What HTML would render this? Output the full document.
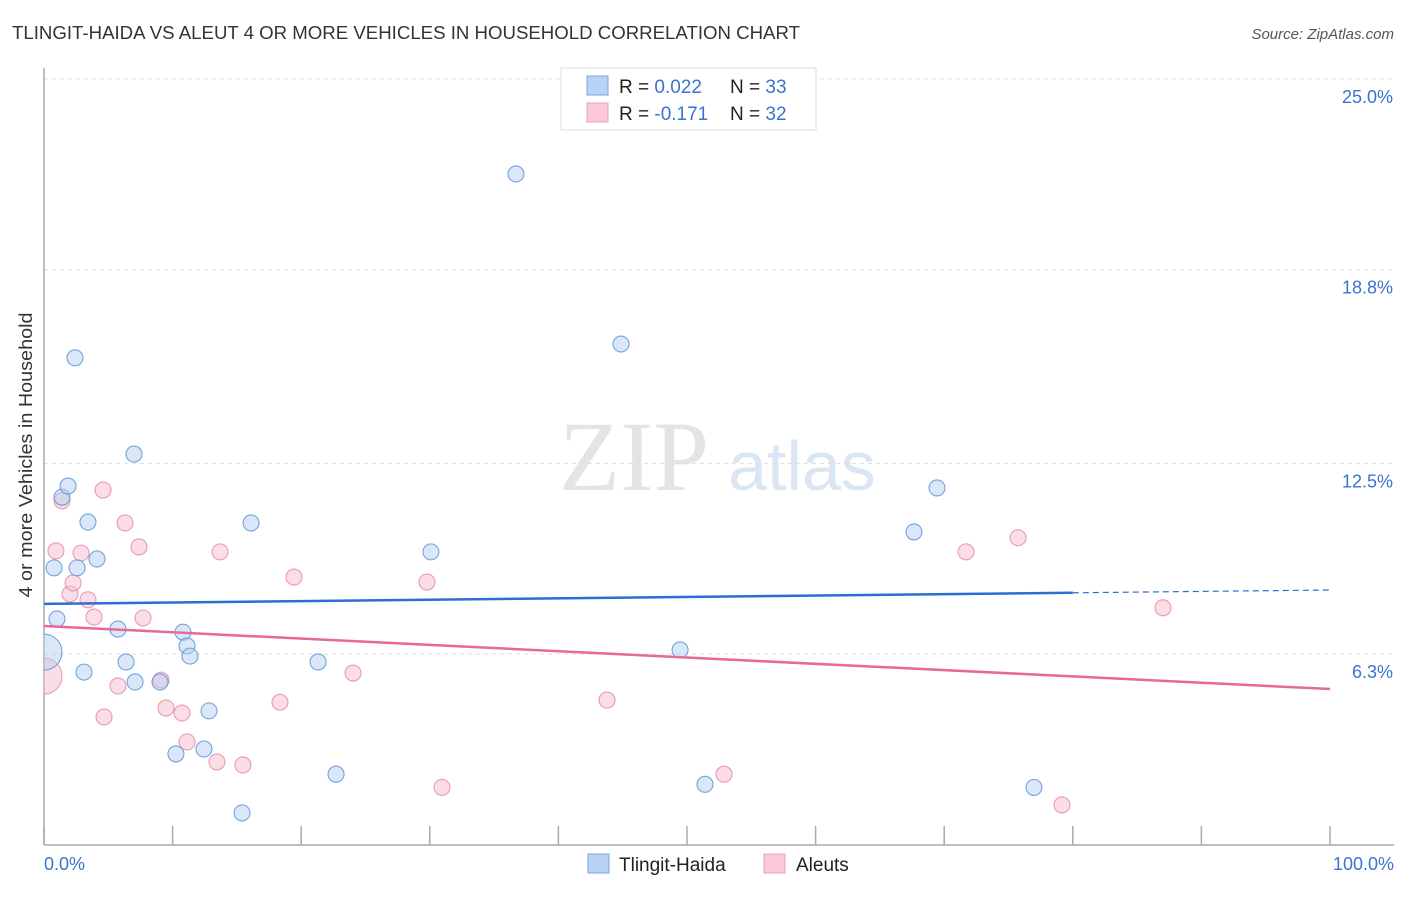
<!DOCTYPE html>
<html><head><meta charset="utf-8"><style>
body{margin:0;background:#fff;width:1406px;height:892px;overflow:hidden;font-family:"Liberation Sans",sans-serif}
</style></head><body>
<svg id="chart" width="1406" height="892" xmlns="http://www.w3.org/2000/svg">
<defs><clipPath id="plotclip"><rect x="44" y="60" width="1360" height="785"/></clipPath></defs>
<text x="12" y="39" font-size="18" fill="#333" textLength="788" lengthAdjust="spacingAndGlyphs">TLINGIT-HAIDA VS ALEUT 4 OR MORE VEHICLES IN HOUSEHOLD CORRELATION CHART</text>
<text x="1394" y="39" font-size="15" fill="#555" font-style="italic" text-anchor="end">Source: ZipAtlas.com</text>
<text x="634" y="490" font-size="100" fill="#e4e4e4" font-family="Liberation Serif,serif" text-anchor="middle">ZIP</text>
<text x="802" y="490" font-size="70" fill="#dbe6f5" text-anchor="middle">atlas</text>
<g id="grid"></g><g id="axes"></g><g id="pts" clip-path="url(#plotclip)"></g><g id="trend"></g>
<text x="32" y="455" font-size="18" fill="#333" text-anchor="middle" textLength="285" lengthAdjust="spacingAndGlyphs" transform="rotate(-90 32 455)">4 or more Vehicles in Household</text>
<text x="44" y="870" font-size="18" fill="#3a73d0">0.0%</text>
<text x="1394" y="870" font-size="18" fill="#3a73d0" text-anchor="end">100.0%</text>
<g>
<rect x="561" y="68" width="255" height="62" fill="#fff" stroke="#ddd"/>
<rect x="587" y="76" width="21" height="19" fill="#b8d3f5" stroke="#7aa6e0"/>
<rect x="587" y="103" width="21" height="19" fill="#fac8d7" stroke="#eba0b8"/>
<text x="619" y="93" font-size="19" fill="#222">R = <tspan fill="#3a73d0">0.022</tspan></text>
<text x="730" y="93" font-size="19" fill="#222">N = <tspan fill="#3a73d0">33</tspan></text>
<text x="619" y="120" font-size="19" fill="#222">R = <tspan fill="#3a73d0">-0.171</tspan></text>
<text x="730" y="120" font-size="19" fill="#222">N = <tspan fill="#3a73d0">32</tspan></text>
</g>
<g>
<rect x="588" y="854" width="21" height="19" fill="#b8d3f5" stroke="#7aa6e0"/>
<text x="619" y="871" font-size="19" fill="#222">Tlingit-Haida</text>
<rect x="764" y="854" width="21" height="19" fill="#fac8d7" stroke="#eba0b8"/>
<text x="796" y="871" font-size="19" fill="#222">Aleuts</text>
</g>
</svg>
<script>
const yTicks=[25.0,18.8,12.5,6.3];
const yTickLabels=["25.0%","18.8%","12.5%","6.3%"];
const xTicks=[0,10,20,30,40,50,60,70,80,90,100];
const blueX=[0,0.78,1.01,1.40,1.87,2.41,3.11,3.42,4.12,2.57,5.75,6.38,7.00,7.08,9.02,10.26,10.81,11.12,11.35,12.44,12.83,15.40,16.10,21.31,22.71,30.09,36.70,44.87,49.46,51.40,67.65,69.44,76.98];
const blueY=[6.36,9.10,7.44,11.40,11.76,15.93,5.71,10.59,9.39,9.10,7.11,6.04,12.80,5.39,5.39,3.05,7.01,6.56,6.23,3.21,4.45,1.13,10.56,6.04,2.39,9.62,21.91,16.38,6.43,2.06,10.27,11.70,1.96];
const pinkX=[0,0.93,1.40,2.02,2.26,2.88,3.42,3.89,4.59,4.67,5.75,6.30,7.39,7.70,9.10,9.49,10.73,11.12,13.45,13.69,15.47,18.35,19.44,24.03,29.78,30.95,43.78,52.88,71.70,75.74,79.16,87.01];
const pinkY=[5.58,9.65,11.28,8.25,8.61,9.58,8.06,7.50,11.63,4.25,5.26,10.56,9.78,7.47,5.45,4.54,4.38,3.44,2.79,9.62,2.69,4.73,8.80,5.68,8.64,1.96,4.80,2.39,9.62,10.08,1.39,7.80];
const blueTrend=[7.93,8.38];
const pinkTrend=[7.21,5.16];
const NS="http://www.w3.org/2000/svg";
const X=v=>44+v*12.86;
const Y=v=>847.7-v*30.75;
function mk(parent,tag,attrs){const e=document.createElementNS(NS,tag);for(const k in attrs)e.setAttribute(k,attrs[k]);document.getElementById(parent).appendChild(e);return e;}
yTicks.forEach((t,i)=>{
 const l=mk('grid','line',{x1:44,x2:1394,y1:Y(t),y2:Y(t),stroke:'#ddd','stroke-dasharray':'4 4'});
 
 
 const tx=mk('grid','text',{x:1393,y:Y(t)+24,'font-size':18,fill:'#3a73d0','text-anchor':'end'});
 tx.textContent=yTickLabels[i];
 
 
});
const ya=mk('axes','line',{x1:44,x2:44,y1:68,y2:845,stroke:'#aaa','stroke-width':1.5});


const xa=mk('axes','line',{x1:44,x2:1394,y1:845,y2:845,stroke:'#aaa','stroke-width':1.5});


xTicks.forEach(t=>{
 const l=mk('axes','line',{x1:X(t),x2:X(t),y1:826,y2:845,stroke:'#aaa','stroke-width':1.5});
 
 
});
function pts(xs,ys,fill,stroke,name){
 xs.forEach((x,i)=>{
  const r=i===0?18:8;
  const c=mk('pts','circle',{cx:X(x),cy:Y(ys[i]),r:r,fill:fill,'fill-opacity':0.5,stroke:stroke,'stroke-width':1.1,'stroke-opacity':0.85});
  
  
 });
}
pts(pinkX,pinkY,'#f8bcd0','#e88aa8','aleuts-point');
pts(blueX,blueY,'#b3cff2','#5f93d8','tlingit-haida-point');
let l=mk('trend','line',{x1:X(0),x2:X(80),y1:Y(blueTrend[0]),y2:Y(blueTrend[0]+(blueTrend[1]-blueTrend[0])*0.8),stroke:'#2d6fd1','stroke-width':2.5});


l=mk('trend','line',{x1:X(80),x2:X(100),y1:Y(blueTrend[0]+(blueTrend[1]-blueTrend[0])*0.8),y2:Y(blueTrend[1]),stroke:'#2d6fd1','stroke-width':1.2,'stroke-dasharray':'6 4'});


l=mk('trend','line',{x1:X(0),x2:X(100),y1:Y(pinkTrend[0]),y2:Y(pinkTrend[1]),stroke:'#e6699a','stroke-width':2.5});


</script>
</body></html>
